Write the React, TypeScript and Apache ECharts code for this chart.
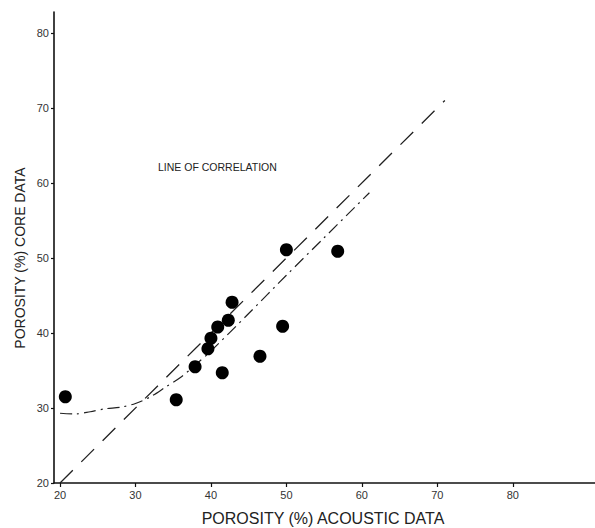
import React, { useEffect, useRef } from "react";
import * as echarts from "echarts";

// Porosity pairs: [acoustic %, core %]
const samplePoints: [number, number][] = [
  [20.7, 31.5],
  [35.4, 31.1],
  [37.9, 35.5],
  [39.6, 37.9],
  [40.0, 39.3],
  [40.9, 40.8],
  [42.3, 41.7],
  [42.8, 44.1],
  [41.5, 34.7],
  [46.5, 36.9],
  [49.5, 40.9],
  [50.0, 51.1],
  [56.8, 50.9],
];

// Line of correlation (1:1)
const correlationLine: [number, number][] = [
  [20, 20],
  [71, 71],
];

// Dash-dot fitted curve
const fittedCurve: [number, number][] = [
  [20, 29.3],
  [22, 29.2],
  [24, 29.5],
  [26, 29.9],
  [28, 30.1],
  [30, 30.6],
  [32, 31.5],
  [34, 32.8],
  [36, 34.1],
  [38, 35.8],
  [40, 37.6],
  [45, 42.6],
  [50, 47.7],
  [55, 52.7],
  [61, 58.7],
];

const xTickValues = [20, 30, 40, 50, 60, 70, 80];
const yTickValues = [20, 30, 40, 50, 60, 70, 80];

const xTitle = "POROSITY (%) ACOUSTIC DATA";
const yTitle = "POROSITY (%) CORE DATA";
const annotation = "LINE OF CORRELATION";

export default function App() {
  const ref = useRef<HTMLDivElement>(null);

  useEffect(() => {
    if (!ref.current) return;
    const chart = echarts.init(ref.current, undefined, { renderer: "svg" });
    const labelFont = {
      fontFamily: "Liberation Sans, Arial, sans-serif",
      fontSize: 11,
      color: "#333",
    };
    chart.setOption({
      animation: false,
      backgroundColor: "#ffffff",
      grid: { left: 54, right: 0, top: 12, bottom: 45, containLabel: false },
      xAxis: {
        type: "value",
        min: 19.2,
        max: 90.9,
        axisLine: { show: true, onZero: false, lineStyle: { color: "#111", width: 1.6 } },
        axisTick: { show: true, length: 4, customValues: xTickValues, lineStyle: { color: "#111", width: 1.2 } },
        axisLabel: { ...labelFont, margin: 6, customValues: xTickValues, formatter: (v: number) => String(Math.round(v)) },
        splitLine: { show: false },
      },
      yAxis: {
        type: "value",
        min: 20,
        max: 82.8,
        axisLine: { show: true, onZero: false, lineStyle: { color: "#111", width: 1.6 } },
        axisTick: { show: true, length: 3, customValues: yTickValues, lineStyle: { color: "#111", width: 1.2 } },
        axisLabel: { ...labelFont, margin: 5, customValues: yTickValues, formatter: (v: number) => String(Math.round(v)) },
        splitLine: { show: false },
      },
      graphic: [
        {
          type: "text",
          left: 158,
          top: 161,
          style: {
            text: annotation,
            fontSize: 10.5,
            fontFamily: "Liberation Sans, Arial, sans-serif",
            fill: "#222",
          },
        },
        {
          type: "text",
          x: 323,
          y: 518,
          style: {
            text: xTitle,
            fontSize: 16,
            fontFamily: "Liberation Sans, Arial, sans-serif",
            fill: "#222",
            align: "center",
            verticalAlign: "middle",
          },
        },
        {
          type: "text",
          x: 20,
          y: 258,
          rotation: Math.PI / 2,
          style: {
            text: yTitle,
            fontSize: 14,
            fontFamily: "Liberation Sans, Arial, sans-serif",
            fill: "#222",
            align: "center",
            verticalAlign: "middle",
          },
        },
      ],
      series: [
        {
          type: "line",
          data: correlationLine,
          symbol: "none",
          lineStyle: { color: "#222", width: 1.3, type: [18, 12] },
          z: 2,
        },
        {
          type: "line",
          data: fittedCurve,
          symbol: "none",
          smooth: 0.3,
          lineStyle: { color: "#222", width: 1.2, type: [12, 5, 2, 5] },
          z: 2,
        },
        {
          type: "scatter",
          data: samplePoints,
          symbol: "circle",
          symbolSize: 13,
          itemStyle: { color: "#000", opacity: 1 },
          z: 3,
        },
      ],
    });
    return () => chart.dispose();
  }, []);

  return (
    <div
      ref={ref}
      style={{ position: "fixed", left: 0, top: 0, width: 595, height: 528, background: "#fff" }}
    />
  );
}
